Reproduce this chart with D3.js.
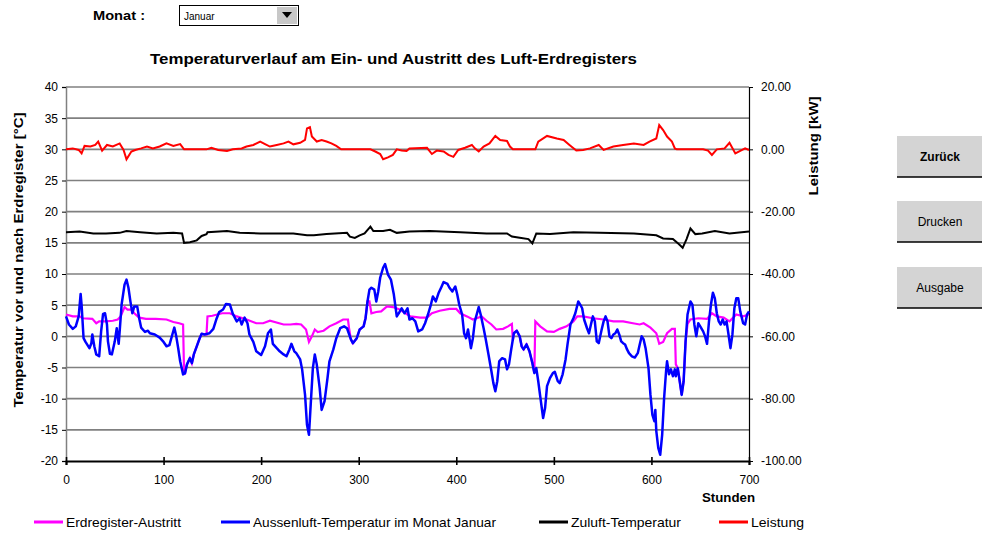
<!DOCTYPE html>
<html>
<head>
<meta charset="utf-8">
<script src="https://cdn.jsdelivr.net/npm/d3@7"></script>
<style>
  body { margin: 0; background: #fff; }
  svg { display: block; font-family: "Liberation Sans", Arial, sans-serif; }
</style>
</head>
<body>
<svg id="chart" width="982" height="534"></svg>
<script>
// [Stunde, Wert]
var erdregister = [[0,3.5],[7,3.2],[14,3.2],[17,2.9],[27,2.8],[31,2.1],[34,2.4],[41,2.4],[48,2.5],[53,2.7],[56,3.2],[60,4.7],[63,4.3],[67,4.3],[70,3.7],[75,3.0],[82,2.8],[92,2.8],[103,2.7],[110,2.3],[116,2.1],[120,1.9],[121,-5.8],[122,-5.9],[124,-4.5],[127,-3.5],[129,-4.3],[131,-2.9],[134,-1.6],[137,-0.3],[139,0.4],[144,0.3],[145,3.2],[150,3.3],[160,3.7],[168,3.7],[175,3.2],[185,2.7],[195,2.1],[202,2.1],[209,2.5],[223,1.9],[230,1.9],[236,2.0],[241,1.9],[246,1.1],[249,-0.9],[252,0],[255,1.1],[258,0.7],[264,0.9],[270,1.6],[277,2.1],[284,2.7],[289,2.7],[290,1.4],[292,-0.5],[294,-1.1],[298,-0.3],[301,1.1],[305,1.6],[307,2.9],[309,5.6],[311,5.6],[313,3.7],[318,3.9],[323,4.0],[329,4.8],[335,4.7],[342,4.3],[353,3.2],[363,3.0],[370,3.0],[375,3.7],[383,4.1],[393,4.4],[400,4.4],[404,3.7],[411,3.2],[417,2.7],[426,3.2],[431,2.5],[436,1.9],[441,1.1],[448,1.2],[453,1.6],[457,2.0],[458,-0.7],[459,0.5],[462,0.9],[465,0],[467,-1.6],[469,-2.1],[472,-1.3],[475,-2.4],[478,-4.3],[480,-5.9],[481,2.4],[486,1.6],[493,0.8],[500,0.7],[506,1.2],[513,1.6],[520,2.4],[524,3.2],[530,3.2],[540,2.9],[551,2.7],[561,2.4],[571,2.4],[581,2.1],[588,1.9],[592,2.1],[599,1.4],[605,0.5],[608,-1.2],[612,-0.9],[616,0.5],[621,1.2],[624,1.2],[625,-4.5],[627,-5.1],[629,-7.2],[631,-9.4],[633,-7.2],[635,-0.8],[637,2.0],[640,2.7],[648,2.9],[657,2.8],[662,3.7],[667,3.2],[674,3.0],[680,2.4],[687,3.5],[694,3.2],[700,3.5]];

var aussenluft = [[0,3.2],[3,1.9],[7,1.2],[10,1.6],[13,3.2],[15,6.8],[16,5],[18,-0.3],[20,-0.9],[24,-1.9],[26,-1.1],[27,0.3],[29,-1.6],[31,-2.9],[34,-3.2],[36,0.8],[38,3.6],[40,3.7],[42,1.9],[43,-0.8],[45,-2.8],[47,-2.9],[50,-0.8],[52,1.3],[54,-1.2],[55,0.8],[57,5.1],[60,8.3],[62,9.1],[64,7.8],[66,5.6],[68,3.7],[70,4.8],[73,4.8],[75,2.9],[77,1.4],[81,0.7],[84,0.9],[86,0.5],[91,0.3],[96,-0.2],[100,-0.9],[103,-1.6],[106,-1.4],[109,0.3],[111,1.4],[113,0],[115,-1.9],[117,-4.0],[120,-6.1],[122,-5.9],[124,-4.5],[127,-3.5],[129,-4.3],[131,-2.9],[134,-1.6],[137,-0.3],[139,0.4],[142,0.3],[147,0.5],[151,1.2],[154,2.7],[157,3.9],[161,4.3],[164,5.2],[168,5.1],[171,3.6],[175,2.4],[178,2.9],[180,1.9],[183,3.0],[186,2.1],[188,0.3],[192,-0.9],[195,-2.4],[200,-3.0],[204,-1.6],[207,0.5],[210,1.1],[212,-1.2],[216,-1.9],[219,-2.4],[223,-2.9],[226,-3.2],[229,-2.1],[231,-1.2],[234,-2.4],[236,-2.7],[240,-3.7],[242,-5.3],[245,-9.4],[247,-14.2],[249,-15.8],[251,-10.4],[253,-5.1],[255,-2.9],[257,-4.5],[260,-8.3],[262,-11.8],[265,-10.4],[268,-6.7],[270,-4.0],[274,-2.1],[277,-0.3],[281,1.3],[285,1.6],[288,1.3],[292,-0.5],[294,-1.1],[298,-0.3],[301,1.1],[305,1.6],[307,2.9],[309,5.6],[311,7.5],[313,7.8],[316,7.5],[318,5.6],[320,7.2],[322,9.4],[325,11.0],[327,11.6],[330,9.9],[333,9.1],[336,6.7],[339,3.2],[341,3.7],[344,4.5],[347,3.7],[350,4.5],[352,2.7],[355,2.9],[358,2.4],[361,0.8],[365,1.1],[368,2.1],[371,3.5],[374,5.1],[376,6.4],[379,5.6],[382,7.0],[385,8.0],[387,8.7],[391,8.4],[393,7.8],[396,7.2],[399,8.0],[401,6.7],[403,5.1],[406,3.5],[408,0.5],[410,-0.3],[412,1.1],[414,-0.8],[415,-1.9],[417,-0.3],[419,2.4],[423,4.7],[425,3.5],[428,1.3],[430,-0.3],[433,-2.9],[436,-5.6],[438,-7.5],[440,-8.8],[442,-7.2],[444,-4.0],[447,-3.5],[450,-3.7],[452,-5.3],[454,-4.5],[456,-2.4],[459,0.5],[462,0.9],[465,0],[467,-1.6],[469,-2.1],[472,-1.3],[475,-2.4],[478,-4.3],[480,-5.9],[482,-5.1],[484,-7.2],[486,-9.6],[489,-13.1],[491,-11.5],[493,-8.0],[496,-6.7],[499,-5.9],[501,-5.7],[504,-7.2],[506,-7.5],[509,-6.1],[512,-3.7],[514,-1.3],[517,1.9],[520,2.9],[522,3.7],[525,5.6],[527,5.1],[529,4.5],[531,2.7],[534,1.3],[536,0.5],[538,1.9],[540,3.2],[542,2.4],[544,-0.8],[546,-1.1],[549,1.1],[551,2.4],[553,3.2],[555,2.4],[557,0],[559,-0.3],[561,0.3],[563,0.5],[565,1.1],[567,0.3],[569,-0.8],[571,-1.1],[573,-1.3],[575,-2.1],[577,-2.7],[580,-3.2],[583,-3.4],[586,-2.7],[588,-1.3],[590,0],[592,-0.5],[594,-1.9],[597,-5.1],[599,-9.4],[601,-12.6],[603,-13.6],[604,-11.8],[605,-15.2],[607,-17.9],[609,-19.0],[611,-15.8],[613,-9.9],[615,-5.6],[616,-4.0],[618,-6.1],[620,-5.3],[622,-6.4],[624,-5.3],[625,-6.4],[627,-5.1],[629,-7.2],[631,-9.4],[633,-7.2],[635,-0.8],[637,3.5],[640,5.6],[642,5.1],[644,1.9],[646,0],[648,2.1],[650,1.6],[653,0.8],[655,0],[657,-1.2],[659,2.4],[661,5.1],[663,7.0],[665,6.1],[667,3.7],[669,2.4],[671,1.9],[673,2.7],[675,1.9],[677,2.4],[679,0.3],[681,-1.9],[683,0.3],[685,4.5],[687,6.1],[689,6.1],[691,4.0],[694,2.1],[696,1.9],[698,3.5],[700,4.0]];

var zuluft = [[0,16.7],[14,16.8],[28,16.5],[41,16.5],[55,16.6],[62,16.9],[76,16.7],[93,16.5],[110,16.6],[119,16.5],[121,15.0],[127,15.1],[134,15.4],[139,16.1],[144,16.4],[145,16.7],[165,16.9],[178,16.6],[199,16.5],[233,16.5],[247,16.2],[254,16.2],[267,16.4],[288,16.6],[291,16.0],[296,15.8],[301,16.2],[306,16.5],[312,17.6],[315,16.9],[325,16.9],[332,17.1],[339,16.6],[352,16.8],[373,16.9],[404,16.7],[431,16.5],[452,16.5],[457,16.0],[465,15.8],[474,15.6],[478,14.9],[482,16.5],[496,16.4],[520,16.7],[547,16.6],[582,16.5],[605,16.2],[612,15.7],[622,15.6],[628,14.8],[632,14.2],[636,15.6],[640,17.3],[645,16.4],[652,16.5],[665,16.9],[680,16.5],[700,16.8]];

// kW, right axis
var leistung = [[0,0],[7,0.3],[13,-0.2],[16,-1.3],[19,1.1],[25,0.9],[30,1.4],[33,2.5],[37,-0.4],[42,1.4],[48,0.9],[55,1.9],[59,-0.2],[62,-3.2],[67,-0.7],[71,-0.2],[77,0.3],[83,0.9],[89,0.3],[96,0.9],[103,1.9],[110,1.1],[117,1.7],[121,0],[144,0],[149,0.5],[156,-0.2],[165,-0.5],[171,0],[180,0.3],[185,0.9],[192,1.4],[199,2.5],[204,1.7],[209,0.9],[216,1.4],[223,1.9],[228,2.5],[233,1.6],[240,2.1],[245,3.0],[247,6.7],[250,7.1],[252,4.1],[257,2.5],[262,3.0],[267,2.5],[272,1.9],[277,1.1],[282,0],[312,0],[317,-0.7],[322,-1.5],[325,-3.2],[330,-2.6],[335,-1.8],[339,0],[344,-0.4],[349,-0.5],[352,0.3],[370,0.5],[375,-1.5],[380,-0.4],[387,-0.7],[392,-1.8],[397,-2.4],[402,-0.2],[409,0.5],[416,1.4],[419,0.3],[423,-0.7],[428,0.9],[434,1.9],[440,4.3],[445,3.0],[452,2.7],[455,0.9],[458,0],[481,0],[484,2.5],[493,4.3],[503,3.5],[510,3.0],[516,1.4],[523,-0.4],[530,-0.2],[537,0.3],[546,1.4],[551,-0.2],[561,0.9],[571,1.4],[582,1.9],[592,1.4],[598,2.5],[605,3.5],[608,7.8],[612,6.2],[616,4.1],[621,2.5],[624,0.3],[626,0],[653,0],[658,-0.4],[662,-1.8],[667,0],[675,0.3],[680,2.1],[686,-1.3],[691,-0.5],[696,0.3],[700,-0.2]];

var xTicks = [0, 100, 200, 300, 400, 500, 600, 700];
var yLeftTicks = d3.range(-20, 41, 5);
var yRightTicks = [-100, -80, -60, -40, -20, 0, 20];

var legendItems = [
  { name: "Erdregister-Austritt", color: "#ff00ff", lx: 34, w: 115 },
  { name: "Aussenluft-Temperatur im Monat Januar", color: "#0000ff", lx: 221, w: 243 },
  { name: "Zuluft-Temperatur", color: "#000000", lx: 539, w: 110 },
  { name: "Leistung", color: "#ff0000", lx: 719, w: 53 }
];
var buttons = [
  { label: "Zurück", bold: true, y: 136 },
  { label: "Drucken", bold: false, y: 201 },
  { label: "Ausgabe", bold: false, y: 267 }
];

var svg = d3.select("#chart");
var x = d3.scaleLinear().domain([0, 700]).range([66, 749]);
var yL = d3.scaleLinear().domain([-20, 40]).range([461, 87]);
var yR = d3.scaleLinear().domain([-100, 20]).range([461, 87]);

// --- Monat selector
svg.append("text").attr("x", 93).attr("y", 20).attr("textLength", 52).attr("lengthAdjust", "spacingAndGlyphs")
  .style("font-size", "12px").style("font-weight", "bold").text("Monat :");
svg.append("rect").attr("x", 179.5).attr("y", 5.5).attr("width", 119).attr("height", 20)
  .attr("fill", "#fff").attr("stroke", "#000");
svg.append("text").attr("x", 184).attr("y", 20).style("font-size", "10px").text("Januar");
svg.append("rect").attr("x", 277).attr("y", 7).attr("width", 20).attr("height", 17).attr("fill", "#c8c8c8");
svg.append("path").attr("d", "M282,12 L292,12 L287,18 Z").attr("fill", "#000");

// --- Titel
svg.append("text").attr("x", 150).attr("y", 64)
  .attr("textLength", 487).attr("lengthAdjust", "spacingAndGlyphs")
  .style("font-size", "15px").style("font-weight", "bold")
  .text("Temperaturverlauf am Ein- und Austritt des Luft-Erdregisters");

// --- Gitter
svg.append("g").selectAll("line").data(yLeftTicks.filter(function(d) { return d > -20; }))
  .enter().append("line")
  .attr("x1", 66).attr("x2", 749)
  .attr("y1", function(d) { return yL(d); }).attr("y2", function(d) { return yL(d); })
  .attr("stroke", "#808080").attr("stroke-width", 1.6);

// --- Achsen
var gL = svg.append("g").attr("transform", "translate(66,0)")
  .call(d3.axisLeft(yL).tickValues(yLeftTicks).tickSize(4).tickPadding(4).tickFormat(function(d) { return String(d); }));
var gR = svg.append("g").attr("transform", "translate(749,0)")
  .call(d3.axisRight(yR).tickValues(yRightTicks).tickSize(4).tickPadding(8).tickFormat(function(d) { return d.toFixed(2); }));
var gB = svg.append("g").attr("transform", "translate(0,461)")
  .call(d3.axisBottom(x).tickValues(xTicks).tickSize(4).tickPadding(10).tickFormat(function(d) { return String(d); }));
gB.selectAll(".tick line").attr("y1", -4).attr("y2", 4).attr("stroke-width", 1.6);
gB.select(".domain").attr("stroke-width", 2);
gL.select(".domain").attr("stroke", "#808080").attr("stroke-width", 1.5);
gR.select(".domain").attr("stroke-width", 1.2);
[gL, gR, gB].forEach(function(g) {
  g.selectAll("text").style("font-size", "12px").style("font-family", "\"Liberation Sans\", Arial, sans-serif").attr("fill", "#000");
});

// --- Achsentitel
svg.append("text").attr("transform", "translate(23,260) rotate(-90)").attr("text-anchor", "middle")
  .attr("textLength", 295).attr("lengthAdjust", "spacingAndGlyphs")
  .style("font-size", "13px").style("font-weight", "bold").text("Temperatur vor und nach Erdregister [°C]");
svg.append("text").attr("transform", "translate(818,146) rotate(-90)").attr("text-anchor", "middle")
  .attr("textLength", 99).attr("lengthAdjust", "spacingAndGlyphs")
  .style("font-size", "13px").style("font-weight", "bold").text("Leistung [kW]");
svg.append("text").attr("x", 702).attr("y", 502)
  .attr("textLength", 53).attr("lengthAdjust", "spacingAndGlyphs")
  .style("font-size", "12px").style("font-weight", "bold").text("Stunden");

// --- Linien
var lineL = d3.line().x(function(d) { return x(d[0]); }).y(function(d) { return yL(d[1]); });
var lineR = d3.line().x(function(d) { return x(d[0]); }).y(function(d) { return yR(d[1]); });

svg.append("path").datum(erdregister).attr("d", lineL)
  .attr("fill", "none").attr("stroke", "#ff00ff").attr("stroke-width", 2.2);
svg.append("path").datum(aussenluft).attr("d", lineL)
  .attr("fill", "none").attr("stroke", "#0000ff").attr("stroke-width", 2.5).attr("stroke-linejoin", "round");
svg.append("path").datum(zuluft).attr("d", lineL)
  .attr("fill", "none").attr("stroke", "#000").attr("stroke-width", 2);
svg.append("path").datum(leistung).attr("d", lineR)
  .attr("fill", "none").attr("stroke", "#ff0000").attr("stroke-width", 2);

// --- Legende
var leg = svg.append("g").selectAll("g").data(legendItems).enter().append("g")
  .attr("transform", function(d) { return "translate(" + d.lx + ",522)"; });
leg.append("line").attr("x1", 0).attr("x2", 29).attr("y1", 0).attr("y2", 0)
  .attr("stroke", function(d) { return d.color; }).attr("stroke-width", 3);
leg.append("text").attr("x", 32).attr("y", 5).style("font-size", "13px")
  .attr("textLength", function(d) { return d.w; }).attr("lengthAdjust", "spacingAndGlyphs")
  .text(function(d) { return d.name; });

// --- Schaltflaechen
var btn = svg.append("g").selectAll("g").data(buttons).enter().append("g")
  .attr("transform", function(d) { return "translate(897," + d.y + ")"; });
btn.append("rect").attr("width", 85).attr("height", 41).attr("fill", "#d4d4d4");
btn.append("line").attr("x1", 0).attr("x2", 85).attr("y1", 41).attr("y2", 41).attr("stroke", "#000").attr("stroke-width", 1.5);
btn.append("text").attr("x", 43).attr("y", 25).attr("text-anchor", "middle")
  .style("font-size", "12px").style("font-weight", function(d) { return d.bold ? "bold" : "normal"; })
  .text(function(d) { return d.label; });
</script>
</body>
</html>
